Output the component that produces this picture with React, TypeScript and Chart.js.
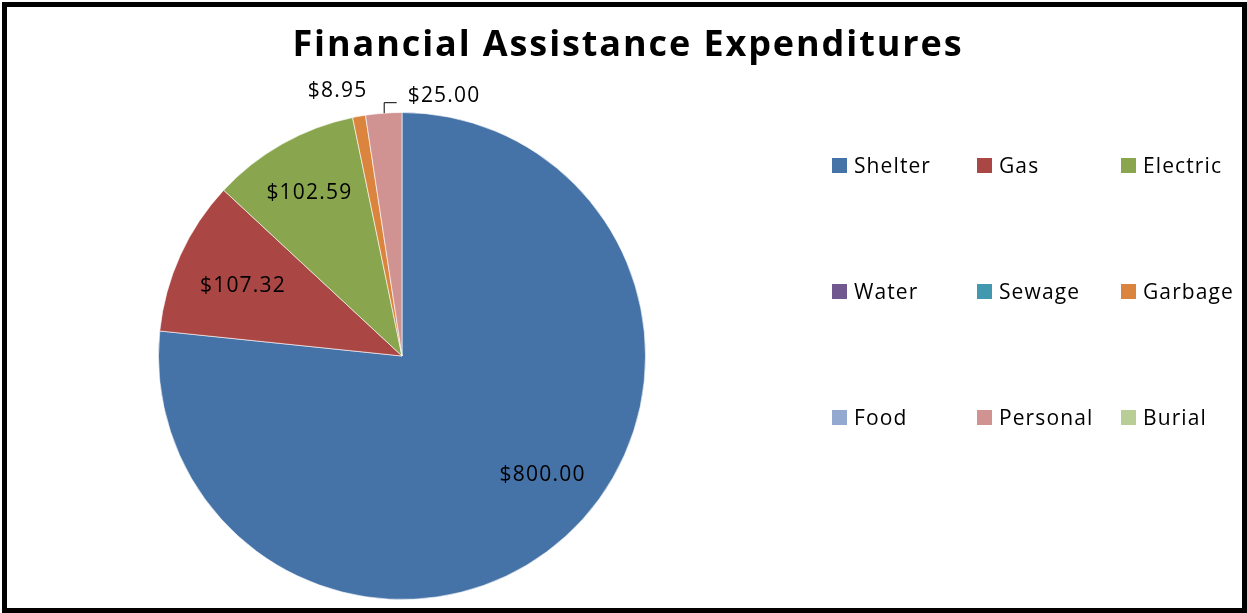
import React, { useEffect, useRef } from "react";
import { Chart, registerables } from "chart.js";
Chart.register(...registerables);

const chartTitle = "Financial Assistance Expenditures";
const categories = ["Shelter", "Gas", "Electric", "Water", "Sewage", "Garbage", "Food", "Personal", "Burial"];
const amounts = [800, 107.32, 102.59, 0, 0, 8.95, 0, 25, 0];
const colors = ["#4572A7", "#AA4643", "#89A54E", "#71588F", "#4198AF", "#DB843D", "#93A9CF", "#D19392", "#B9CD96"];

const FONT = "'Open Sans', sans-serif";

type Place = { r: number; shift?: number; dx?: number; dy?: number; leader?: boolean; align?: CanvasTextAlign };
const labelPlacement: Record<string, Place> = {
  Shelter: { r: 0.75, shift: -8 },
  Gas: { r: 0.72 },
  Electric: { r: 0.78 },
  Garbage: { r: 1.0, dx: -22, dy: -27, align: "center" },
  Personal: { r: 1.0, dx: 24, dy: -19, leader: true, align: "left" },
};

function setSpacing(ctx: any, px: number) {
  if ("letterSpacing" in ctx) ctx.letterSpacing = px + "px";
}

const decorPlugin = {
  id: "decor",
  afterDraw(chart: any) {
    const ctx = chart.ctx as CanvasRenderingContext2D;
    const W = chart.width, H = chart.height;
    ctx.save();
    // border
    ctx.strokeStyle = "#000";
    ctx.lineWidth = 5;
    ctx.strokeRect(4.5, 4.5, W - 7, H - 7);
    // title
    ctx.fillStyle = "#000";
    ctx.font = `bold 36px ${FONT}`;
    setSpacing(ctx, 1.9);
    ctx.textAlign = "left";
    ctx.textBaseline = "middle";
    const tw = ctx.measureText(chartTitle).width - 1.9;
    ctx.fillText(chartTitle, 627 - tw / 2, 46);
    // data labels
    const meta = chart.getDatasetMeta(0);
    ctx.font = `21px ${FONT}`;
    setSpacing(ctx, 1.2);
    meta.data.forEach((arc: any, i: number) => {
      const v = amounts[i];
      if (!v) return;
      const p = labelPlacement[categories[i]] || { r: 0.73 };
      const { x, y, startAngle, endAngle, outerRadius } = arc.getProps(["x", "y", "startAngle", "endAngle", "outerRadius"], true);
      const mid = (startAngle + endAngle) / 2 + ((p.shift || 0) * Math.PI) / 180;
      const ax = x + Math.cos(mid) * outerRadius * p.r;
      const ay = y + Math.sin(mid) * outerRadius * p.r;
      const text = "$" + v.toFixed(2);
      ctx.fillStyle = "#000";
      ctx.textBaseline = "middle";
      ctx.textAlign = "left";
      const w = ctx.measureText(text).width - 1.2;
      if (p.leader) {
        ctx.strokeStyle = "#000";
        ctx.lineWidth = 1;
        ctx.beginPath();
        ctx.moveTo(ax + 0.5, ay);
        ctx.lineTo(ax + 0.5, ay - 11 + 0.5);
        ctx.lineTo(ax + 13, ay - 11 + 0.5);
        ctx.stroke();
      }
      const lx = (p.align === "left" ? ax : ax - w / 2) + (p.dx || 0);
      ctx.fillText(text, lx, ay + (p.dy || 0) + 2);
    });
    // legend
    const colX = [832, 977, 1121];
    const rowY = [158, 284, 410];
    ctx.font = `21px ${FONT}`;
    setSpacing(ctx, 1.1);
    ctx.textAlign = "left";
    categories.forEach((c, i) => {
      const cx = colX[i % 3];
      const cy = rowY[Math.floor(i / 3)];
      ctx.fillStyle = colors[i];
      ctx.fillRect(cx, cy, 15, 15);
      ctx.fillStyle = "#000";
      ctx.fillText(c, cx + 22, cy + 9);
    });
    ctx.restore();
  },
};

export default function App() {
  const ref = useRef<HTMLCanvasElement>(null);
  useEffect(() => {
    const chart = new Chart(ref.current!, {
      type: "pie",
      data: {
        labels: categories,
        datasets: [
          {
            data: amounts,
            backgroundColor: colors,
            borderColor: "rgba(255,255,255,0.6)",
            borderWidth: 1,
          },
        ],
      },
      options: {
        animation: false,
        responsive: false,
        layout: { padding: { left: 158, right: 601, top: 112, bottom: 13 } },
        plugins: { legend: { display: false }, title: { display: false }, tooltip: { enabled: false } },
      },
      plugins: [decorPlugin],
    });
    return () => chart.destroy();
  }, []);
  return (
    <div style={{ position: "fixed", left: 0, top: 0, width: 1247, height: 613, background: "#fff" }}>
      <canvas ref={ref} width={1247} height={613} />
    </div>
  );
}
